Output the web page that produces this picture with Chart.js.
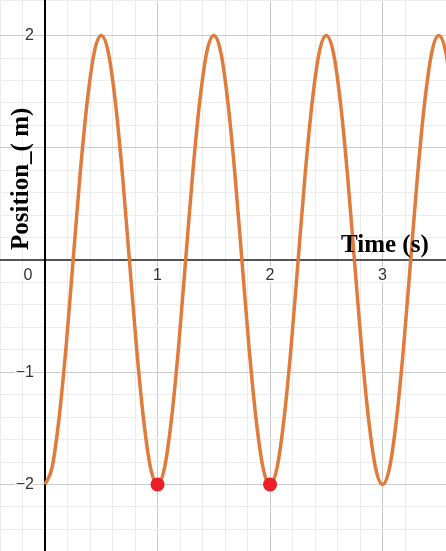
<!DOCTYPE html>
<html>
<head>
<meta charset="utf-8">
<script src="https://cdn.jsdelivr.net/npm/chart.js@4.4.1/dist/chart.umd.min.js"></script>
<style>
  html, body { margin: 0; padding: 0; background: #fff; }
  #wrap { width: 446px; height: 551px; }
</style>
</head>
<body>
<div id="wrap"><canvas id="graf"></canvas></div>
<script>
// valores
var tiempo = [0, 0.0625, 0.125, 0.1875, 0.25, 0.3125, 0.375, 0.4375,
              0.5, 0.5625, 0.625, 0.6875, 0.75, 0.8125, 0.875, 0.9375,
              1, 1.0625, 1.125, 1.1875, 1.25, 1.3125, 1.375, 1.4375,
              1.5, 1.5625, 1.625, 1.6875, 1.75, 1.8125, 1.875, 1.9375,
              2, 2.0625, 2.125, 2.1875, 2.25, 2.3125, 2.375, 2.4375,
              2.5, 2.5625, 2.625, 2.6875, 2.75, 2.8125, 2.875, 2.9375,
              3, 3.0625, 3.125, 3.1875, 3.25, 3.3125, 3.375, 3.4375,
              3.5, 3.5625, 3.625];
var posicion = [-2, -1.85, -1.41, -0.77, 0, 0.77, 1.41, 1.85,
                2, 1.85, 1.41, 0.77, 0, -0.77, -1.41, -1.85,
                -2, -1.85, -1.41, -0.77, 0, 0.77, 1.41, 1.85,
                2, 1.85, 1.41, 0.77, 0, -0.77, -1.41, -1.85,
                -2, -1.85, -1.41, -0.77, 0, 0.77, 1.41, 1.85,
                2, 1.85, 1.41, 0.77, 0, -0.77, -1.41, -1.85,
                -2, -1.85, -1.41, -0.77, 0, 0.77, 1.41, 1.85,
                2, 1.85, 1.41];
var puntosT = [1, 2];
var puntosY = [-2, -2];
var ticksX = [0, 1, 2, 3];
var ticksY = [2, -1, -2];

function etiqueta(v) {
    return v < 0 ? '\u2212' + Math.abs(v) : String(v);
}

function esEntero(v) {
    return Math.abs(v - Math.round(v)) < 1e-6;
}

var curva = tiempo.map(function (t, i) { return { x: t, y: posicion[i] }; });
var puntos = puntosT.map(function (t, i) { return { x: t, y: puntosY[i] }; });

function colorRejilla(ctx) {
    if (!ctx.tick) return 'rgba(0,0,0,0)';
    return esEntero(ctx.tick.value) ? '#cccccc' : '#ececec';
}

var ejes = {
    id: 'ejes',
    beforeDatasetsDraw: function (chart) {
        var c = chart.ctx, a = chart.chartArea;
        var x0 = chart.scales.x.getPixelForValue(0);
        var y0 = chart.scales.y.getPixelForValue(0);
        c.save();
        c.lineWidth = 2;
        c.strokeStyle = '#555555';
        c.beginPath(); c.moveTo(a.left, y0); c.lineTo(a.right, y0); c.stroke();
        c.strokeStyle = '#000000';
        c.beginPath(); c.moveTo(x0, a.top); c.lineTo(x0, a.bottom); c.stroke();
        c.restore();
    },
    afterDraw: function (chart) {
        var c = chart.ctx;
        var sx = chart.scales.x, sy = chart.scales.y;
        var x0 = sx.getPixelForValue(0);
        var y0 = sy.getPixelForValue(0);
        c.save();
        c.font = '16px "Liberation Sans", Arial, sans-serif';
        c.lineJoin = 'round';
        c.lineWidth = 3;
        c.strokeStyle = '#ffffff';
        c.fillStyle = '#333333';
        c.textBaseline = 'middle';
        ticksX.forEach(function (v) {
            var px = sx.getPixelForValue(v);
            c.textAlign = 'center';
            if (v === 0) { px = x0 - 17; }
            c.strokeText(etiqueta(v), px, y0 + 16);
            c.fillText(etiqueta(v), px, y0 + 16);
        });
        ticksY.forEach(function (v) {
            var py = sy.getPixelForValue(v);
            c.textAlign = 'right';
            c.strokeText(etiqueta(v), x0 - 11, py);
            c.fillText(etiqueta(v), x0 - 11, py);
        });

        // titulos de los ejes
        c.fillStyle = '#000000';
        c.font = 'bold 25px "Liberation Serif", "Times New Roman", serif';
        c.textBaseline = 'alphabetic';
        c.textAlign = 'left';
        c.fillText('Time (s)', 341, 252);
        c.translate(28, 250);
        c.rotate(-Math.PI / 2);
        c.fillText('Position_( m)', 0, 0);
        c.restore();
    }
};

new Chart(document.getElementById('graf'), {
    type: 'scatter',
    data: {
        datasets: [{
            data: puntos,
            pointRadius: 7,
            pointHoverRadius: 7,
            pointBackgroundColor: '#ea1f28',
            pointBorderWidth: 0,
            showLine: false
        }, {
            data: curva,
            showLine: true,
            borderColor: '#e07b3c',
            borderWidth: 3.5,
            pointRadius: 0,
            cubicInterpolationMode: 'monotone',
            fill: false
        }]
    },
    options: {
        responsive: true,
        maintainAspectRatio: false,
        animation: false,
        layout: { padding: 0, autoPadding: false },
        plugins: { legend: { display: false }, tooltip: { enabled: false } },
        scales: {
            x: {
                type: 'linear',
                min: -0.4,
                max: 3.564,
                border: { display: false },
                grid: { color: colorRejilla, lineWidth: 1, drawTicks: false },
                ticks: { display: false, stepSize: 0.2, padding: 0 }
            },
            y: {
                type: 'linear',
                min: -2.593,
                max: 2.317,
                border: { display: false },
                grid: { color: colorRejilla, lineWidth: 1, drawTicks: false },
                ticks: { display: false, stepSize: 0.2, padding: 0 }
            }
        }
    },
    plugins: [ejes]
});
</script>
</body>
</html>
